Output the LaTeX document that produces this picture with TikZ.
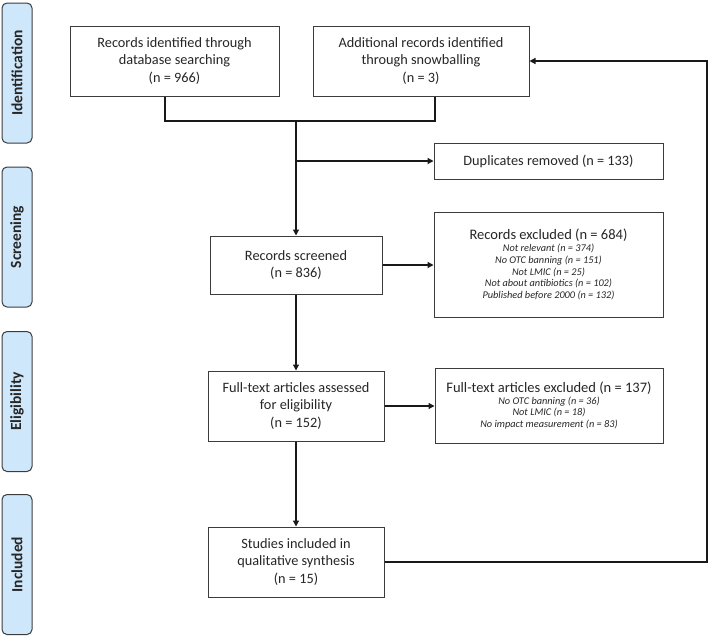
\documentclass[tikz,border=0pt]{standalone}
\usepackage{fontspec}
\setmainfont{Carlito}
\usetikzlibrary{arrows.meta,calc}
\definecolor{phase}{RGB}{207,231,250}
\definecolor{edge}{RGB}{60,60,60}
\tikzset{
  box/.style={draw=edge, line width=1pt, fill=white, align=center, inner sep=2pt,
    font=\fontsize{14.3}{17.6}\selectfont, text=black!85},
  exbox/.style={draw=edge, line width=1pt, fill=white, align=center, inner sep=2pt,
    font=\fontsize{10.3}{11.9}\selectfont\itshape, text=black!85},
  phasebox/.style={draw=edge, line width=1pt, fill=phase, rounded corners=5pt,
    rotate=90, minimum width=140pt, minimum height=30pt, inner sep=0pt,
    font=\fontsize{15.5}{17}\selectfont\bfseries, text=black!85},
  link/.style={draw=black!90, line width=1.2pt},
  arrow/.style={link, -{Triangle[length=6pt,width=6pt]}}
}
\newcommand{\ttl}[1]{{\fontsize{14.5}{17}\selectfont\upshape #1}}
\begin{document}
\begin{tikzpicture}[x=1pt,y=-1pt]
\useasboundingbox (0,0) rectangle (709,637);

% phase labels
\node[phasebox] (pid) at (17,73) {Identification};
\node[phasebox] (psc) at (17,237) {Screening};
\node[phasebox] (pel) at (17,401.5) {Eligibility};
\node[phasebox] (pin) at (17,564.5) {Included};

% boxes
\node[box, minimum width=209pt, minimum height=70pt] (b1) at (174.5,61)
  {Records identified through\\database searching\\(n = 966)};
\node[box, minimum width=216pt, minimum height=70pt] (b2) at (421,61)
  {Additional records identified\\through snowballing\\(n = 3)};
\node[box, minimum width=229pt, minimum height=36pt] (dup) at (548.5,161)
  {Duplicates removed (n = 133)};
\node[box, minimum width=172pt, minimum height=58pt] (scr) at (296,265)
  {Records screened\\(n = 836)};
\node[exbox, minimum width=229pt, minimum height=105pt] (rex) at (548.5,264.5)
  {\ttl{Records excluded (n = 684)}\\Not relevant (n = 374)\\No OTC banning (n = 151)\\Not LMIC (n = 25)\\Not about antibiotics (n = 102)\\Published before 2000 (n = 132)};
\node[box, minimum width=176pt, minimum height=70pt] (fta) at (296,406)
  {Full-text articles assessed\\for eligibility\\(n = 152)};
\node[exbox, minimum width=228pt, minimum height=75pt] (fte) at (549,405.5)
  {\ttl{Full-text articles excluded (n = 137)}\\No OTC banning (n = 36)\\Not LMIC (n = 18)\\No impact measurement (n = 83)};
\node[box, minimum width=176pt, minimum height=70pt] (stu) at (296,562)
  {Studies included in\\qualitative synthesis\\(n = 15)};

% connectors
\coordinate (d1) at (165,121);
\coordinate (d2) at (435,121);
\coordinate (j) at (296,121);
\coordinate (fb) at (707,562);
\draw[link] (d1 |- b1.south) -- (d1) -- (d2) -- (d2 |- b2.south);
\draw[arrow] (j) -- (scr.north);
\draw[arrow] (j |- dup.west) -- (dup.west);
\draw[arrow] (scr.east) -- (rex.west |- scr.east);
\draw[arrow] (scr.south) -- (fta.north);
\draw[arrow] (fta.east) -- (fte.west |- fta.east);
\draw[arrow] (fta.south) -- (stu.north);
\draw[arrow] (stu.east) -- (fb) |- (b2.east);
\end{tikzpicture}
\end{document}
